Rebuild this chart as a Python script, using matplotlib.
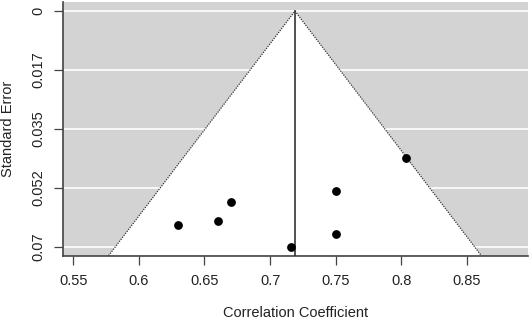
import numpy as np
import matplotlib.pyplot as plt

plt.rcParams['font.family'] = ['Liberation Sans', 'DejaVu Sans']

# study estimates and their standard errors
est = [0.804, 0.750, 0.670, 0.660, 0.630, 0.716, 0.750]
sei = [0.0436, 0.0533, 0.0567, 0.0622, 0.0633, 0.0698, 0.0662]
pooled = 0.719
xticks = [0.55, 0.6, 0.65, 0.7, 0.75, 0.8, 0.85]

se_max = max(sei)
yticks = [se_max * k / 4 for k in range(5)]
ylabels = ['0', '0.017', '0.035', '0.052', '0.07']

fig = plt.figure(figsize=(5.29, 3.19), dpi=100)
ax = fig.add_axes([0.1185, 0.1985, 0.8795, 0.795])
ax.set_xlim(0.5419, 0.8966)
ax.set_ylim(0.0725, -0.00266)
ax.set_facecolor('#d3d3d3')

for t in yticks:
    ax.axhline(t, color='white', lw=1.2, zorder=1)

ybot = 0.0725
xs = [pooled - 1.96 * ybot, pooled, pooled + 1.96 * ybot]
ys = [ybot, 0, ybot]
ax.fill(xs, ys, color='white', zorder=2, lw=0)
ax.plot(xs, ys, color='#333333', ls=(0, (1, 1)), lw=0.9, zorder=3)
ax.plot([pooled, pooled], [0, ybot], color='#333333', lw=1.2, zorder=3)

ax.scatter(est, sei, s=28, color='black', zorder=4)

ax.set_xticks(xticks)
ax.set_xticklabels([f'{v:g}' for v in xticks])
ax.set_yticks(yticks)
ax.set_yticklabels(ylabels, rotation=90, va='center')
ax.tick_params(length=6.5, width=0.9, color='#444444', labelsize=10.5,
               labelcolor='#222222')
ax.tick_params(axis='x', pad=7)
ax.tick_params(axis='y', pad=6)
for s in ['top', 'right']:
    ax.spines[s].set_visible(False)
for s in ['left', 'bottom']:
    ax.spines[s].set_color('#444444')
    ax.spines[s].set_linewidth(1.2)

ax.set_xlabel('Correlation Coefficient', fontsize=10.5, color='#222222', labelpad=13)
ax.set_ylabel('Standard Error', fontsize=10.5, color='#222222', labelpad=12)

fig.savefig('out.png', dpi=100)
